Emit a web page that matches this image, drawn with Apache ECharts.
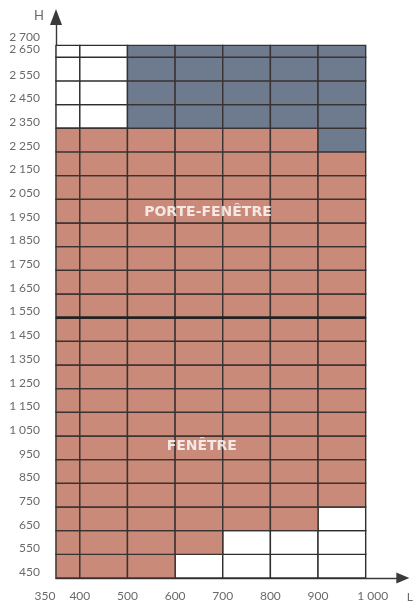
<!DOCTYPE html>
<html>
<head>
<meta charset="utf-8">
<script src="https://cdn.jsdelivr.net/npm/echarts@6/dist/echarts.min.js"></script>
<style>
  html, body { margin: 0; padding: 0; background: #fff; }
  #chart { width: 416px; height: 603px; }
</style>
</head>
<body>
<div id="chart"></div>
<script>
// Column edges (largeur L, mm) and row edges (hauteur H, mm)
const colEdges = [350, 400, 500, 600, 700, 800, 900, 1000];
const rowEdges = [450, 550, 650, 750, 850, 950, 1050, 1150, 1250, 1350, 1450, 1550,
                  1650, 1750, 1850, 1950, 2050, 2150, 2250, 2350, 2450, 2550, 2650, 2700];

// One string per row (bottom to top), one letter per column:
// F = fenêtre, P = porte-fenêtre, B = hors gamme, . = vide
const rowFill = [
  'FFF....', // 450
  'FFFF...', // 550
  'FFFFFF.', // 650
  'FFFFFFF', // 750
  'FFFFFFF', // 850
  'FFFFFFF', // 950
  'FFFFFFF', // 1050
  'FFFFFFF', // 1150
  'FFFFFFF', // 1250
  'FFFFFFF', // 1350
  'FFFFFFF', // 1450
  'PPPPPPP', // 1550
  'PPPPPPP', // 1650
  'PPPPPPP', // 1750
  'PPPPPPP', // 1850
  'PPPPPPP', // 1950
  'PPPPPPP', // 2050
  'PPPPPPP', // 2150
  'PPPPPPB', // 2250
  '..BBBBB', // 2350
  '..BBBBB', // 2450
  '..BBBBB', // 2550
  '..BBBBB'  // 2650
];

// Boundary between fenêtre and porte-fenêtre
const separatorH = 1550;

// Axis tick labels
const xTickLabels = [350, 400, 500, 600, 700, 800, 900, 1000];
const yTickLabels = [450, 550, 650, 750, 850, 950, 1050, 1150, 1250, 1350, 1450, 1550,
                     1650, 1750, 1850, 1950, 2050, 2150, 2250, 2350, 2450, 2550, 2650, 2700];

// Zone names and their anchor points [L, H]
const zoneNames = ['PORTE-FENÊTRE', 'FENÊTRE'];
const zoneAnchors = [[669, 1995], [656, 1005]];

const fillColors = { F: '#c98a79', P: '#c98a79', B: '#6e7b8f', '.': '#ffffff' };

// Build the cell list: white cells first so coloured borders sit on top
const cells = [];
const cellKinds = [];
['.', 'F', 'P', 'B'].forEach(function (kind) {
  rowFill.forEach(function (row, r) {
    for (let c = 0; c < row.length; c++) {
      if (row[c] !== kind) continue;
      cells.push([colEdges[c], colEdges[c + 1], rowEdges[r], rowEdges[r + 1]]);
      cellKinds.push(kind);
    }
  });
});

function thousands(v) {
  const s = String(v);
  return s.length > 3 ? s.slice(0, s.length - 3) + '\u202F' + s.slice(-3) : s;
}

const labelFont = { fontFamily: 'Lato, "Noto Sans", sans-serif', fontSize: 12, color: '#6a6a6a' };

const chart = echarts.init(document.getElementById('chart'), null, { renderer: 'canvas' });

chart.setOption({
  animation: false,
  backgroundColor: '#ffffff',
  grid: { left: 56, right: 13, top: 17, bottom: 25, containLabel: false },
  xAxis: {
    type: 'value',
    min: 350,
    max: 1078,
    interval: 50,
    name: 'L',
    nameLocation: 'end',
    nameGap: 4,
    nameTextStyle: Object.assign({}, labelFont, { align: 'left', verticalAlign: 'top', padding: [13, 0, 0, 0] }),
    axisLine: {
      show: true,
      symbol: ['none', 'triangle'],
      symbolSize: [11, 13],
      lineStyle: { color: '#3a3a3a', width: 1.4 }
    },
    axisTick: { show: false },
    splitLine: { show: false },
    axisLabel: Object.assign({}, labelFont, {
      margin: 12,
      showMaxLabel: false,
      formatter: function (v) {
        if (xTickLabels.indexOf(v) < 0) return '';
        if (v === xTickLabels[0]) return '{l|' + thousands(v) + '}';
        if (v === xTickLabels[xTickLabels.length - 1]) return '{r|' + thousands(v) + '}';
        return thousands(v);
      },
      rich: {
        l: Object.assign({}, labelFont, { padding: [0, 22, 0, 0] }),
        r: Object.assign({}, labelFont, { padding: [0, 0, 0, 14] })
      }
    })
  },
  yAxis: {
    type: 'value',
    min: 450,
    max: 2820,
    interval: 50,
    name: 'H',
    nameLocation: 'end',
    nameGap: -5,
    nameTextStyle: Object.assign({}, labelFont, { fontSize: 13, align: 'right', padding: [0, 12, 0, 0] }),
    axisLine: {
      show: true,
      symbol: ['none', 'triangle'],
      symbolSize: [12, 16],
      lineStyle: { color: '#3a3a3a', width: 1.4 }
    },
    axisTick: { show: false },
    splitLine: { show: false },
    axisLabel: Object.assign({}, labelFont, {
      margin: 16,
      verticalAlign: 'bottom',
      showMaxLabel: false,
      formatter: function (v) {
        if (yTickLabels.indexOf(v) < 0) return '';
        if (v >= 2650) return '{u|' + thousands(v) + '}';
        return thousands(v);
      },
      rich: {
        u: Object.assign({}, labelFont, { padding: [0, 0, 2, 0] })
      }
    })
  },
  series: [
    {
      type: 'custom',
      z: 2,
      data: cells,
      renderItem: function (params, api) {
        const p0 = api.coord([api.value(0), api.value(3)]);
        const p1 = api.coord([api.value(1), api.value(2)]);
        const kind = cellKinds[params.dataIndex];
        return {
          type: 'rect',
          shape: { x: p0[0], y: p0[1], width: p1[0] - p0[0], height: p1[1] - p0[1] },
          style: {
            fill: fillColors[kind],
            stroke: kind === '.' ? '#2e2e2e' : '#3a3232',
            lineWidth: 1.4
          }
        };
      }
    },
    {
      type: 'line',
      z: 3,
      symbol: 'none',
      silent: true,
      lineStyle: { color: '#222222', width: 2.6 },
      data: [[colEdges[0], separatorH], [colEdges[colEdges.length - 1], separatorH]]
    },
    {
      type: 'scatter',
      z: 4,
      symbolSize: 0,
      silent: true,
      data: zoneAnchors.map(function (p, i) { return { name: zoneNames[i], value: p }; }),
      label: {
        show: true,
        position: 'inside',
        formatter: '{b}',
        color: '#ffffff',
        fontFamily: '"DejaVu Sans", sans-serif',
        fontWeight: 'bold',
        fontSize: 14
      }
    }
  ]
});
</script>
</body>
</html>
